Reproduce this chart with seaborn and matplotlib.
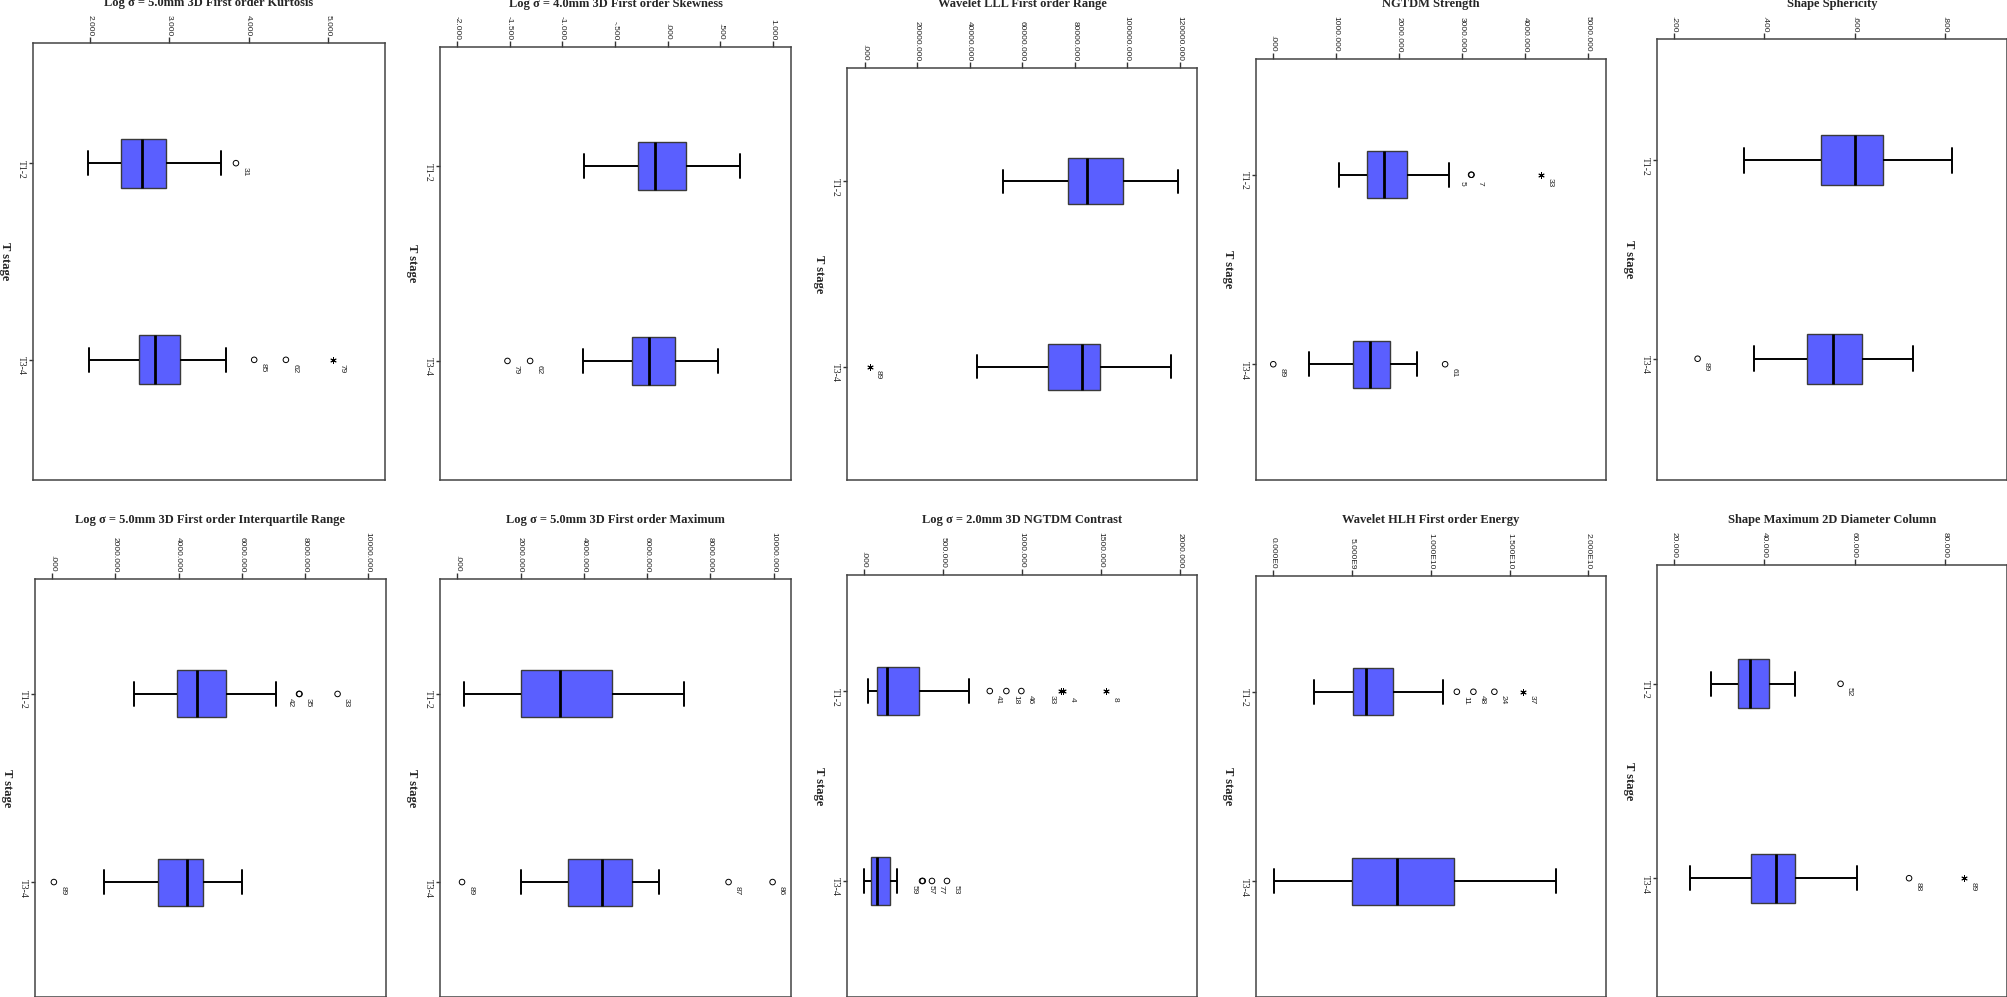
"""
Boxplots of radiomic features per T stage (SPSS style, rotated panels).
"""
import numpy as np
import pandas as pd
import matplotlib
matplotlib.use("Agg")
import matplotlib.pyplot as plt
import seaborn as sns

stages = ["T1-2", "T3-4"]

titles = [
    "Log σ = 5.0mm 3D First order Kurtosis",
    "Log σ = 4.0mm 3D First order Skewness",
    "Wavelet LLL First order Range",
    "NGTDM Strength",
    "Shape Sphericity",
    "Log σ = 5.0mm 3D First order Interquartile Range",
    "Log σ = 5.0mm 3D First order Maximum",
    "Log σ = 2.0mm 3D NGTDM Contrast",
    "Wavelet HLH First order Energy",
    "Shape Maximum 2D Diameter Column",
]

tick_values = [
    [2, 3, 4, 5],
    [-2, -1.5, -1, -0.5, 0, 0.5, 1],
    [0, 20000, 40000, 60000, 80000, 100000, 120000],
    [0, 1000, 2000, 3000, 4000, 5000],
    [0.2, 0.4, 0.6, 0.8],
    [0, 2000, 4000, 6000, 8000, 10000],
    [0, 2000, 4000, 6000, 8000, 10000],
    [0, 500, 1000, 1500, 2000],
    [0, 5e9, 1e10, 1.5e10, 2e10],
    [20, 40, 60, 80],
]

tick_labels = [
    ["2.000", "3.000", "4.000", "5.000"],
    ["-2.000", "-1.500", "-1.000", "-.500", ".000", ".500", "1.000"],
    [".000", "20000.000", "40000.000", "60000.000", "80000.000",
     "100000.000", "120000.000"],
    [".000", "1000.000", "2000.000", "3000.000", "4000.000", "5000.000"],
    [".200", ".400", ".600", ".800"],
    [".000", "2000.000", "4000.000", "6000.000", "8000.000", "10000.000"],
    [".000", "2000.000", "4000.000", "6000.000", "8000.000", "10000.000"],
    [".000", "500.000", "1000.000", "1500.000", "2000.000"],
    ["0.000E0", "5.000E9", "1.000E10", "1.500E10", "2.000E10"],
    ["20.000", "40.000", "60.000", "80.000"],
]

value_ranges = [
    (1.28, 5.72), (-2.16, 1.17), (-6690, 126600), (-269, 5283),
    (0.162, 0.938), (-548, 10569), (-548, 10552), (-108, 2108),
    (-1.077e9, 2.112e10), (16.17, 93.83),
]

# five-number summaries (whisker low, Q1, median, Q3, whisker high)
boxes_t12 = [
    [1.97, 2.39, 2.65, 2.96, 3.65],
    [-0.79, -0.285, -0.12, 0.17, 0.69],
    [52850, 77330, 84550, 98470, 119530],
    [1051, 1490, 1769, 2124, 2799],
    [0.354, 0.526, 0.601, 0.664, 0.817],
    [2600, 3963, 4577, 5497, 7091],
    [212, 2007, 3241, 4906, 7175],
    [23, 80, 148, 348, 663],
    [2.62e9, 5.07e9, 5.91e9, 7.60e9, 1.077e10],
    [28.2, 34.2, 36.9, 41.0, 46.9],
]
boxes_t34 = [
    [1.99, 2.62, 2.82, 3.13, 3.72],
    [-0.80, -0.335, -0.175, 0.07, 0.475],
    [42960, 69960, 82660, 89620, 116610],
    [575, 1273, 1547, 1854, 2292],
    [0.378, 0.494, 0.552, 0.616, 0.729],
    [1639, 3360, 4280, 4787, 6023],
    [2007, 3494, 4570, 5520, 6393],
    [2, 42, 82, 165, 209],
    [4e7, 5.03e9, 7.86e9, 1.145e10, 1.795e10],
    [23.4, 37.1, 42.5, 46.9, 60.6],
]

outliers_t12 = [
    [3.84], [], [], [3143, 3150, 4248], [],
    [7815, 7830, 9035], [], [796, 901, 996, 1260, 1249, 1530],
    [1.166e10, 1.271e10, 1.404e10, 1.588e10], [56.9],
]
cases_t12 = [
    ["31"], [], [], ["7", "5", "33"], [],
    ["35", "42", "33"], [], ["41", "18", "46", "4", "33", "8"],
    ["11", "48", "24", "37"], ["52"],
]
outliers_t34 = [
    [4.07, 4.47, 5.07], [-1.52, -1.305], [1900], [5, 2731], [0.252],
    [50], [149, 8577, 9970], [367, 372, 430, 525], [], [72.1, 84.2],
]
cases_t34 = [
    ["85", "62", "79"], ["79", "62"], ["89"], ["89", "61"], ["89"],
    ["89"], ["89", "87", "86"], ["57", "59", "77", "53"], [], ["88", "89"],
]

# layout in pixels: frame left, top, right, bottom
FIG_W, FIG_H = 2008, 997
frames = [
    (33, 43, 385, 480), (440, 47, 791, 480), (847, 68, 1197, 480),
    (1256, 59, 1606, 480), (1657, 39, 2007, 480),
    (35, 579, 386, 997), (440, 579, 791, 997), (847, 575, 1197, 997),
    (1256, 576, 1606, 997), (1657, 565, 2007, 997),
]
title_y = [3.5, 520]

BOX_BLUE = "#5A5FFF"
SANS = ["Liberation Sans", "DejaVu Sans"]

sns.set_style("white")
plt.rcParams["font.family"] = ["Liberation Serif", "DejaVu Serif"]

fig = plt.figure(figsize=(FIG_W / 100, FIG_H / 100), dpi=100)

for i in range(len(titles)):
    l, t, r, b = frames[i]
    w_px, h_px = r - l, b - t
    ax = fig.add_axes([l / FIG_W, 1 - b / FIG_H, w_px / FIG_W, h_px / FIG_H])

    df = pd.DataFrame({"stage": np.repeat(stages, 5),
                       "value": boxes_t12[i] + boxes_t34[i]})
    sns.boxplot(data=df, x="value", y="stage", order=stages, orient="h",
                whis=(0, 100), width=0.25, color=BOX_BLUE, saturation=1,
                fliersize=0, linecolor="#3a3a3a", linewidth=1.0,
                medianprops=dict(color="black", linewidth=2.0),
                whiskerprops=dict(color="black", linewidth=1.4),
                capprops=dict(color="black", linewidth=1.4), ax=ax)

    ppu = w_px / (value_ranges[i][1] - value_ranges[i][0])
    groups = [(boxes_t12[i], outliers_t12[i], cases_t12[i]),
              (boxes_t34[i], outliers_t34[i], cases_t34[i])]
    for k, (box, vals, cases) in enumerate(groups):
        if not vals:
            continue
        vals = np.array(vals, dtype=float)
        iqr = box[3] - box[1]
        extreme = (vals > box[3] + 3 * iqr) | (vals < box[1] - 3 * iqr)
        pos = np.full(len(vals), k, dtype=float)
        if (~extreme).any():
            sns.scatterplot(x=vals[~extreme], y=pos[~extreme], marker="o",
                            s=16, color="black", edgecolor="black",
                            linewidth=0.7, legend=False, ax=ax)
            ax.collections[-1].set_facecolor("none")
        if extreme.any():
            sns.scatterplot(x=vals[extreme], y=pos[extreme], marker=(6, 2, 0),
                            s=16, color="black", edgecolor="black",
                            linewidth=0.7, legend=False, ax=ax)
        # case number labels, flip side when points crowd together
        side = 1
        prev = None
        for v, p, c in zip(vals, pos, cases):
            if prev is not None and abs(v - prev) * ppu < 10:
                side = -side
            else:
                side = 1
            prev = v
            ax.annotate(c, (v, p), xytext=(side * 6.5, -6),
                        textcoords="offset points", rotation=-90,
                        fontsize=6, family=SANS, ha="center", va="center")

    ax.set_xlim(value_ranges[i])
    ax.set_ylim(1.611, -0.611)

    ax.xaxis.tick_top()
    ax.set_xticks(tick_values[i])
    ax.set_xticklabels(tick_labels[i], rotation=-90, fontsize=6, family=SANS)
    ax.tick_params(axis="x", direction="out", length=4, width=1, pad=1,
                   color="#333333", top=True, bottom=False)
    ax.set_yticks([0, 1])
    ax.set_yticklabels(stages, rotation=-90, fontsize=7)
    ax.tick_params(axis="y", direction="out", length=3, width=1, pad=2,
                   color="#333333", left=True)

    ax.set_xlabel("")
    ax.set_ylabel("T stage", fontsize=9, fontweight="bold", rotation=-90)
    ax.yaxis.set_label_coords(-28 / w_px, 0.5)
    ax.yaxis.label.set_ha("center")
    ax.yaxis.label.set_va("center")

    row = 0 if i < 5 else 1
    ax.set_title(titles[i], fontsize=9, fontweight="bold", pad=0, va="center",
                 y=1 + (t - title_y[row]) / h_px)

    for s in ax.spines.values():
        s.set_visible(True)
        s.set_color("#444444")
        s.set_linewidth(1.1)

fig.savefig("out.png", dpi=100, facecolor="white")
